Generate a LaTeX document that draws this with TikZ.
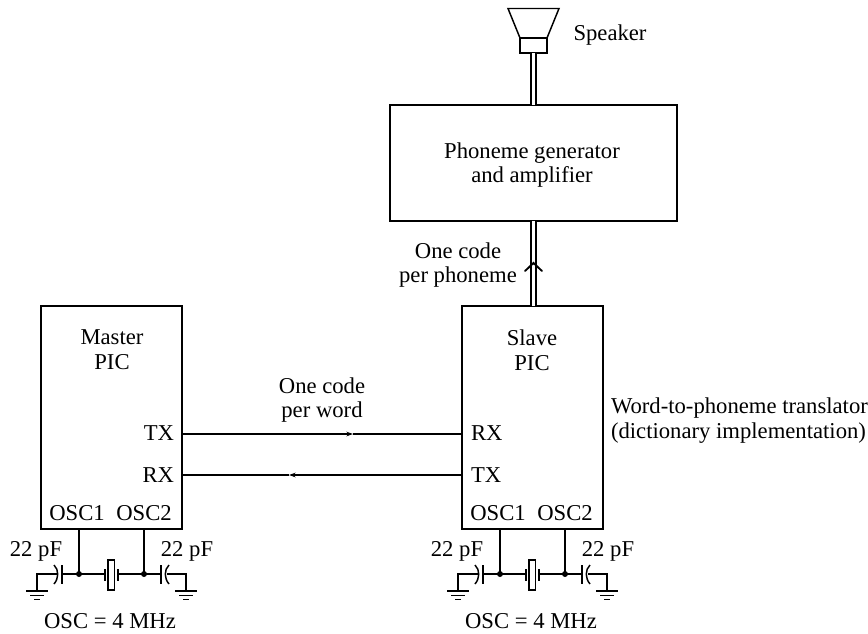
\documentclass[tikz,border=0pt]{standalone}
\usepackage{fontspec}
\setmainfont{Liberation Serif}
\usetikzlibrary{arrows.meta}
\tikzset{
  x=0.75pt,y=-0.75pt,
  every node/.style={font=\fontsize{17}{18.5}\selectfont,inner sep=0pt,outer sep=0pt},
  sig/.style={line width=1.9pt},
  wire/.style={line width=1.9pt},
  plate/.style={line width=1.1pt},
  blockbox/.style={draw,line width=1.1pt},
  busline/.style={line width=1.6pt,double,double distance=1.7pt},
  lbl/.style={align=center},
}
\newcommand{\oscnet}[3]{%
  % #1 name prefix, #2 x offset, #3 box name
  \begin{scope}[xshift=#2*0.75pt]
    \coordinate (#1j1) at (79,574);
    \coordinate (#1j2) at (144,574);
    \coordinate (#1pa) at (62,574);
    \coordinate (#1ca) at (57,574);
    \coordinate (#1g1) at (37,574);
    \coordinate (#1g1b) at (37,591);
    \coordinate (#1pb) at (161,574);
    \coordinate (#1cb) at (167,574);
    \coordinate (#1g2) at (186,574);
    \coordinate (#1g2b) at (186,591);
    \coordinate (#1xa) at (105,574);
    \coordinate (#1xb) at (118,574);
    \draw[wire] (#1j1 |- #3.south) -- (#1j1);
    \draw[wire] (#1j2 |- #3.south) -- (#1j2);
    \draw[wire] (#1pa) -- (#1j1) -- (#1xa);
    \draw[wire] (#1xb) -- (#1j2) -- (#1pb);
    \fill (#1j1) circle[radius=3];
    \fill (#1j2) circle[radius=3];
    \draw[plate] (62,565) -- (62,584);
    \draw[plate] (161,565) -- (161,584);
    \draw[plate] (54,565) .. controls (59,570) and (59,578) .. (54,584);
    \draw[plate] (169,565) .. controls (164,570) and (164,578) .. (169,584);
    \draw[wire] (#1ca) -- (#1g1) -- (#1g1b);
    \draw[wire] (#1cb) -- (#1g2) -- (#1g2b);
    \draw[plate] (105,569) -- (105,581);
    \draw[plate] (118,569) -- (118,581);
    \draw[plate] (108,560) rectangle (114.5,590);
    \foreach \gx in {37,186}{
      \draw[line width=1.4pt] (\gx-11,591) -- (\gx+11,591);
      \draw[line width=1.3pt] (\gx-7,595.5) -- (\gx+7,595.5);
      \draw[line width=1.4pt] (\gx-3,599.5) -- (\gx+3,599.5);
    }
    \node (#1capa) at (36,551) {22 pF};
    \node (#1capb) at (187,551) {22 pF};
    \node (#1freq) at (110,621.5) {OSC = 4 MHz};
    \node (#1o1) at (77,513) {OSC1};
    \node (#1o2) at (144,513) {OSC2};
  \end{scope}}
\begin{document}
\begin{tikzpicture}
\useasboundingbox (0,0) rectangle (868,633);
% blocks
\node[blockbox,minimum width=105.75pt,minimum height=167.25pt] (master) at (111.5,417.5) {};
\node[blockbox,minimum width=105.75pt,minimum height=167.25pt] (slave) at (532.5,417.5) {};
\node[blockbox,minimum width=215.25pt,minimum height=87pt] (gen) at (533.5,163) {};
\node[lbl] (gentext) at (532,165) {Phoneme generator\\and amplifier};
\node[lbl] (mtext) at (112,350) {Master\\PIC};
\node[lbl] (stext) at (532,350) {Slave\\PIC};
% speaker
\node[blockbox,minimum width=20.25pt,minimum height=11.25pt] (spk) at (533.5,45.5) {};
\draw[line width=1.1pt] (spk.north west) -- (508,8.5) -- (559,8.5) -- (spk.north east);
\node (spklabel) at (610,35) {Speaker};
% buses
\draw[busline] (spk.south) -- (spk.south |- gen.north);
\coordinate (busb) at (533.5,0);
\draw[busline] (busb |- slave.north) -- (busb |- gen.south);
\coordinate (tipc) at (533.5,263);
\draw[line width=1.4pt,line cap=round] (525,271) -- (tipc) -- (542,271);
\node[lbl] (code1) at (458,265) {One code\\per phoneme};
% serial
\node[anchor=east] (mtx) at (174,433) {TX};
\node[anchor=east] (mrx) at (174,475) {RX};
\node[anchor=west] (srx) at (471,433) {RX};
\node[anchor=west] (stx) at (471,475) {TX};
\coordinate (tm) at (353,434);
\coordinate (rm) at (289,475);
\draw[sig,-{Stealth[length=5pt,width=3.5pt]}] (master.east |- 0,434) -- (tm);
\draw[sig] (tm) -- (slave.west |- 0,434);
\draw[sig,-{Stealth[length=5pt,width=3.5pt]}] (slave.west |- 0,475) -- (rm);
\draw[sig] (rm) -- (master.east |- 0,475);
\node[lbl] (code2) at (322,400) {One code\\per word};
\node[anchor=west,align=left] (trans) at (611,420.5) {Word-to-phoneme translator\\(dictionary implementation)};
\oscnet{m}{0}{master}
\oscnet{s}{421}{slave}
\end{tikzpicture}
\end{document}
